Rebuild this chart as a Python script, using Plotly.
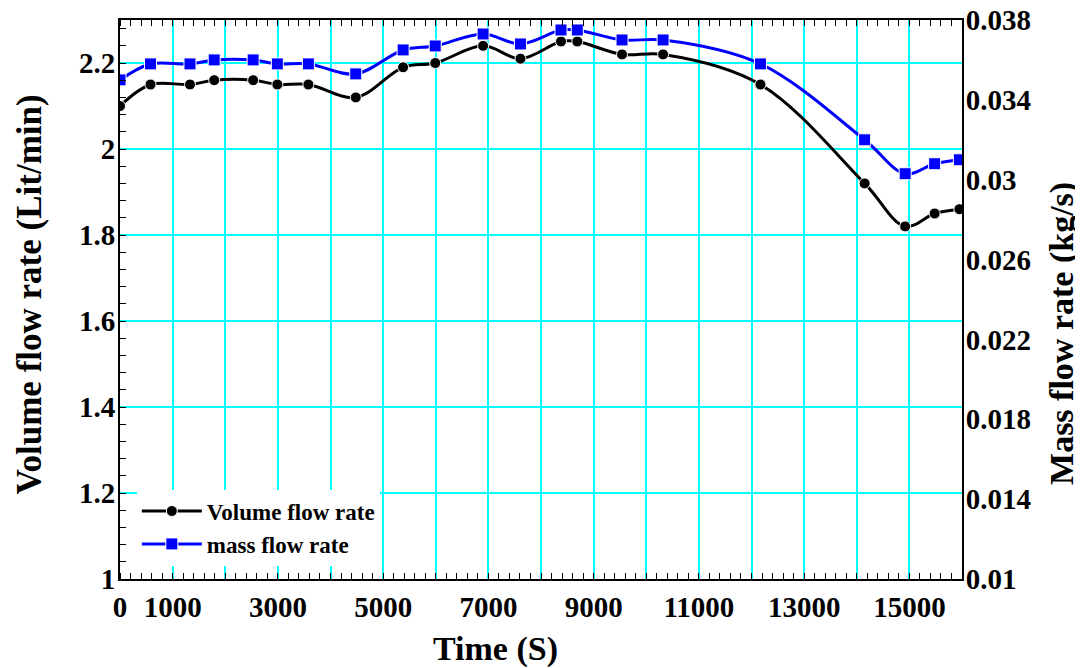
import plotly.graph_objects as go

# Data
time_s = [0, 580, 1330, 1790, 2530, 2990, 3580, 4480, 5380, 5990, 6900,
          7610, 8380, 8690, 9540, 10320, 12170, 14150, 14920, 15480, 15950]
volume_flow = [2.10, 2.15, 2.15, 2.16, 2.16, 2.15, 2.15, 2.12, 2.19, 2.20, 2.24,
               2.21, 2.25, 2.25, 2.22, 2.22, 2.15, 1.92, 1.82, 1.85, 1.86]
mass_flow = [0.0350, 0.0358, 0.0358, 0.0360, 0.0360, 0.0358, 0.0358, 0.0353, 0.0365,
             0.0367, 0.0373, 0.0368, 0.0375, 0.0375, 0.0370, 0.0370, 0.0358, 0.0320,
             0.0303, 0.0308, 0.0310]

x_grid_vals = list(range(0, 16001, 1000))
x_label_vals = [0, 1000, 3000, 5000, 7000, 9000, 11000, 13000, 15000]
y_left_vals = [1, 1.2, 1.4, 1.6, 1.8, 2, 2.2]
y_left_text = ["1", "1.2", "1.4", "1.6", "1.8", "2", "2.2"]
y_right_vals = [0.01, 0.014, 0.018, 0.022, 0.026, 0.03, 0.034, 0.038]
y_right_text = ["0.01", "0.014", "0.018", "0.022", "0.026", "0.03", "0.034", "0.038"]

FONT = "Liberation Serif"
GRID = "#00FFFF"

fig = go.Figure()
fig.add_trace(go.Scatter(
    x=time_s, y=volume_flow, name="Volume flow rate", mode="lines+markers",
    line=dict(color="black", width=3, shape="spline", smoothing=1.0),
    marker=dict(symbol="circle", size=11, color="black", line=dict(color="white", width=1)),
    yaxis="y"))
fig.add_trace(go.Scatter(
    x=time_s, y=mass_flow, name="mass flow rate", mode="lines+markers",
    line=dict(color="#0000FF", width=3, shape="spline", smoothing=1.0),
    marker=dict(symbol="square", size=12, color="#0000FF", line=dict(color="white", width=1)),
    yaxis="y2"))

tickfont = dict(family=FONT, size=29, color="black", weight="bold")

fig.update_layout(
    width=1075, height=660,
    margin=dict(l=112, r=121, t=12, b=89, autoexpand=False),
    paper_bgcolor="white", plot_bgcolor="white",
    showlegend=True,
    legend=dict(x=0.02, y=0.16, xanchor="left", yanchor="top",
                bgcolor="white", borderwidth=0,
                font=dict(family=FONT, size=23, color="black", weight="bold"),
                tracegroupgap=0, itemwidth=60),
    xaxis=dict(
        range=[0, 16000], automargin=False,
        tickmode="array", tickvals=x_grid_vals,
        ticktext=[str(v) if v in x_label_vals else "" for v in x_grid_vals],
        tickfont=tickfont, ticks="", showgrid=True, gridcolor=GRID, gridwidth=1.5,
        zeroline=False, showline=True, linecolor="black", linewidth=2, mirror="ticks",
        ticklabelstandoff=1, ticklabeloverflow="allow",
        minor=dict(dtick=200, ticks="inside", ticklen=6, tickwidth=1.2,
                   tickcolor="black", showgrid=False),
    ),
    yaxis=dict(
        range=[1, 2.3], automargin=False,
        tickmode="array", tickvals=y_left_vals, ticktext=y_left_text,
        tickfont=tickfont, ticks="", showgrid=True, gridcolor=GRID, gridwidth=1.5,
        zeroline=False, showline=True, linecolor="black", linewidth=2, mirror=True,
        ticklabelstandoff=-3, ticklabeloverflow="allow",
        minor=dict(dtick=0.04, tick0=1, ticks="inside", ticklen=6, tickwidth=1.2,
                   tickcolor="black", showgrid=False),
    ),
    yaxis2=dict(
        range=[0.01, 0.0380001], overlaying="y", side="right", automargin=False,
        tickmode="array", tickvals=y_right_vals, ticktext=y_right_text,
        tickfont=tickfont, ticks="", showgrid=False, zeroline=False,
        showline=True, linecolor="black", linewidth=2,
        ticklabelstandoff=-4, ticklabeloverflow="allow",
    ),
    annotations=[
        dict(text="Volume flow rate (Lit/min)", xref="paper", yref="paper",
             x=-0.108, y=0.509, xanchor="center", yanchor="middle", textangle=-90,
             showarrow=False, font=dict(family=FONT, size=35, color="black", weight="bold")),
        dict(text="Mass flow rate (kg/s)", xref="paper", yref="paper",
             x=1.118, y=0.439, xanchor="center", yanchor="middle", textangle=-90,
             showarrow=False, font=dict(family=FONT, size=34, color="black", weight="bold")),
        dict(text="Time (S)", xref="paper", yref="paper",
             x=0.4454, y=-0.126, xanchor="center", yanchor="middle",
             showarrow=False, font=dict(family=FONT, size=34, color="black", weight="bold")),
    ],
)

fig.write_html("out.html")
